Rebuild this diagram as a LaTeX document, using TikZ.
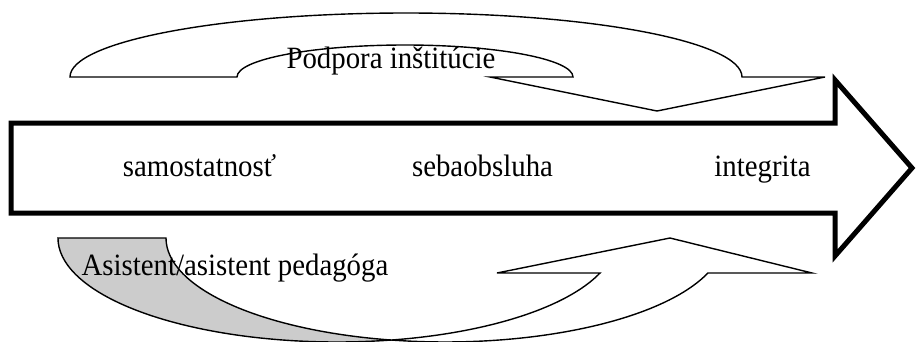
\documentclass[tikz,border=0pt]{standalone}
\usepackage{fontspec}
\usepackage{graphicx}
\setmainfont{Liberation Serif}
\newcommand\condtext[1]{\scalebox{0.93}[1]{#1}}
\tikzset{
  curvedband/.style={draw=black, line width=1.4pt, fill=white, line join=miter},
  backband/.style={draw=black, line width=1.4pt, fill=black!20, line join=miter},
  mainarrow/.style={draw=black, line width=5pt, fill=white, line join=miter, miter limit=20},
  lbl/.style={font=\fontsize{31}{34}\selectfont, inner sep=0pt, anchor=base}
}
\begin{document}
\begin{tikzpicture}[x=1pt, y=-1pt]
\useasboundingbox (0,0) rectangle (916,341);
% main arrow
\draw[mainarrow] (11,123) -- (835,123) -- (835,80) -- (912,168) -- (835,256) -- (835,213) -- (11,213) -- cycle;
% top curved arrow
\draw[curvedband] (70,77) arc[start angle=180, end angle=360, x radius=336, y radius=64]
  -- (825,77) -- (657,111) -- (490,77) -- (573,77)
  arc[start angle=360, end angle=180, x radius=168, y radius=32] -- cycle;
% bottom curved arrow: back (gray) part
\coordinate (cross) at (391.1,340.0);
\draw[backband] (58,238) -- (166,238)
  arc[start angle=180, end angle=101.16, x radius=279.1, y radius=104]
  arc[start angle=78.84, end angle=180, x radius=279.1, y radius=104] -- cycle;
% bottom curved arrow: front part with head
\draw[curvedband] (cross)
  arc[start angle=101.16, end angle=19.66, x radius=279.1, y radius=104]
  -- (812,273) -- (670,238) -- (497,273) -- (600,273)
  arc[start angle=19.66, end angle=78.84, x radius=279.1, y radius=104] -- cycle;
% labels
\node[lbl] (t1) at (199.5,176) {\condtext{samostatnosť}};
\node[lbl] (t2) at (482.5,176) {\condtext{sebaobsluha}};
\node[lbl] (t3) at (762.5,176) {\condtext{integrita}};
\node[lbl] (top) at (391,68) {\condtext{Podpora inštitúcie}};
\node[lbl] (bot) at (235,275) {\condtext{Asistent/asistent pedagóga}};
\end{tikzpicture}
\end{document}
